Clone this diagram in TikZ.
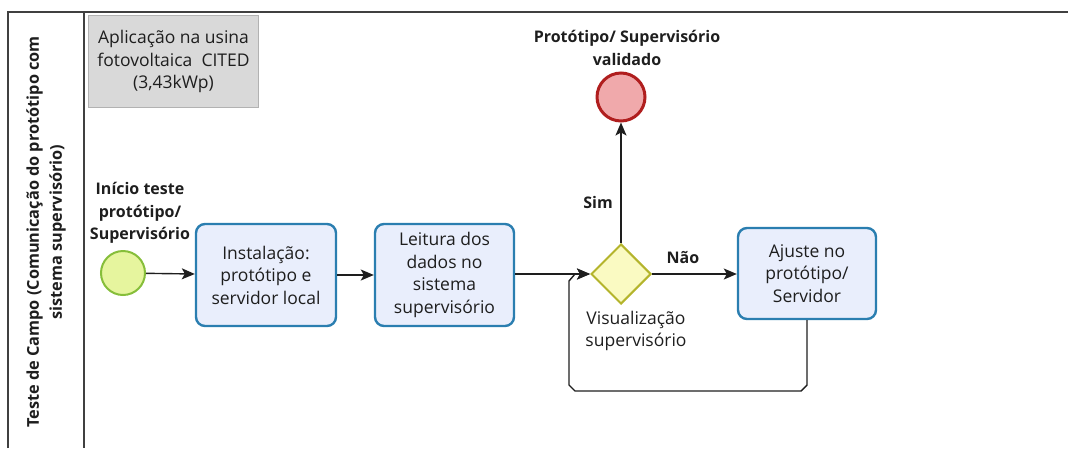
\documentclass[tikz,border=0pt]{standalone}
\usepackage{fontspec}
\setmainfont{Open Sans}
\usetikzlibrary{shapes.geometric,arrows.meta}
\definecolor{taskfill}{HTML}{E9EEFC}
\definecolor{taskdraw}{HTML}{2A7EB0}
\definecolor{startfill}{HTML}{E6F59E}
\definecolor{startdraw}{HTML}{86BE3A}
\definecolor{endfill}{HTML}{F0A9AB}
\definecolor{enddraw}{HTML}{B01E1E}
\definecolor{gwfill}{HTML}{FAFAC2}
\definecolor{gwdraw}{HTML}{B4B42C}
\definecolor{ink}{HTML}{1E1E1E}
\definecolor{notefill}{HTML}{D9D9D9}
\tikzset{
  txt/.style={font=\fontsize{17.5}{22.5}\selectfont, text=ink, align=center, inner sep=0pt},
  btxt/.style={font=\fontsize{16}{22.5}\selectfont\bfseries, text=ink, align=center, inner sep=0pt},
  task/.style={txt, draw=taskdraw, fill=taskfill, line width=2.4pt, rounded corners=9pt, minimum width=#1},
  startev/.style={circle, draw=startdraw, fill=startfill, line width=2pt, minimum size=44pt, inner sep=0pt},
  endev/.style={circle, draw=enddraw, fill=endfill, line width=3pt, minimum size=48pt, inner sep=0pt},
  gateway/.style={diamond, aspect=1, draw=gwdraw, fill=gwfill, line width=2pt, minimum size=60pt, inner sep=0pt},
  flow/.style={draw=ink, line width=1.4pt, -{Stealth[length=13pt,width=11pt,inset=3pt]}},
  frame/.style={draw=ink!85, line width=1.5pt}
}
\begin{document}
\begin{tikzpicture}[x=1pt,y=-1pt]
\useasboundingbox (0,0) rectangle (1068,448);
% pool frame
\draw[frame] (8,448) -- (8,12) -- (1068,12);
\draw[frame] (84,12) -- (84,448);
\node[btxt, font=\fontsize{16.3}{23}\selectfont\bfseries, rotate=90] (lane) at (46,232) {Teste de Campo (Comunicação do protótipo com\\sistema supervisório)};
% annotation
\node[txt, fill=notefill, draw=gray!60, line width=0.6pt, minimum width=170pt, minimum height=92pt] (note) at (173.5,61.5) {Aplicação na usina\\fotovoltaica\ \ CITED\\(3,43kWp)};
% events, tasks, gateway
\node[startev] (start) at (123,273) {};
\node[btxt] (startlbl) at (140,213) {Início teste\\protótipo/\\Supervisório};
\node[task=140pt, minimum height=102pt] (inst) at (266,275) {Instalação:\\protótipo e\\servidor local};
\node[task=139pt, minimum height=102pt] (leit) at (444.5,275) {Leitura dos\\dados no\\sistema\\supervisório};
\node[gateway] (gw) at (621,274) {};
\node[txt] (gwlbl) at (636,331) {Visualização\\supervisório};
\node[endev] (end) at (621,97) {};
\node[btxt] (endlbl) at (627,48) {Protótipo/ Supervisório\\validado};
\node[task=138pt, minimum height=91pt] (ajuste) at (807,273.5) {Ajuste no\\protótipo/\\Servidor};
\node[btxt] (sim) at (598,202) {Sim};
\node[btxt] (nao) at (683,258) {Não};
% sequence flows
\draw[flow] (start) -- (inst);
\draw[flow] (inst) -- (leit);
\draw[flow] (leit.east |- gw.west) -- (gw.west);
\draw[flow] (gw.north) -- (end.south);
\draw[flow] (gw.east) -- (ajuste.west |- gw.east);
\coordinate (c1) at (807,385);
\coordinate (c2) at (801,391);
\coordinate (c3) at (575,391);
\coordinate (c4) at (569,385);
\coordinate (c5) at (569,281);
\coordinate (c6) at (575,274);
\draw[flow] (ajuste.south -| c1) -- (c1) -- (c2) -- (c3) -- (c4) -- (c5) -- (c6) -- (gw.west);
\end{tikzpicture}
\end{document}
